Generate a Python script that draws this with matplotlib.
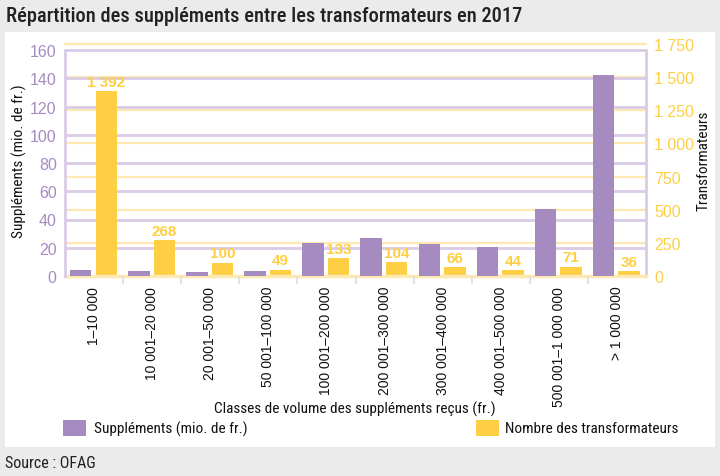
import numpy as np
import matplotlib
matplotlib.use("Agg")
import matplotlib.pyplot as plt
from matplotlib import font_manager
from matplotlib.patches import Rectangle
from matplotlib.ticker import FixedLocator, FuncFormatter

# data
classes = ["1\u201310 000", "10 001\u201320 000", "20 001\u201350 000", "50 001\u2013100 000",
           "100 001\u2013200 000", "200 001\u2013300 000", "300 001\u2013400 000",
           "400 001\u2013500 000", "500 001\u20131 000 000", "> 1 000 000"]
supplements = [4.5, 3.2, 2.6, 3.4, 23.3, 26.7, 22.6, 20.3, 47.3, 142.5]
transformateurs = [1392, 268, 100, 49, 133, 104, 66, 44, 71, 36]

PURPLE = "#a68bc1"
ORANGE = "#fecf44"
PURPLE_GRID = "#d9cbe6"
ORANGE_GRID = "#ffe9b2"
BG = "#ebebeb"

available = {f.name for f in font_manager.fontManager.ttflist}
narrow = "DejaVu Sans"
for cand in ["Roboto Condensed", "Liberation Sans Narrow", "Open Sans Condensed", "Noto Sans Condensed"]:
    if cand in available:
        narrow = cand
        break
plain = "Liberation Sans" if "Liberation Sans" in available else "DejaVu Sans"
cond_kw = {"family": narrow}
if narrow == "DejaVu Sans":
    cond_kw["stretch"] = "condensed"


def fr_thousands(v, pos=None):
    return f"{int(v):,}".replace(",", " ")


fig = plt.figure(figsize=(7.2, 4.77), dpi=100)
fig.patch.set_facecolor(BG)
W, H = 720.0, 477.0
# white panel
fig.add_artist(Rectangle((5 / W, 1 - 448 / H), 710 / W, 415 / H, transform=fig.transFigure,
                         facecolor="white", edgecolor="none", zorder=0))
fig.text(6 / W, 1 - 17 / H, "Répartition des suppléments entre les transformateurs en 2017",
         fontsize=14.8, fontweight="medium", va="center", ha="left", color="#222222", **cond_kw)
fig.text(5 / W, 1 - 464 / H, "Source : OFAG", fontsize=11.5, va="center", ha="left",
         color="#222222", **cond_kw)

ax = fig.add_axes([65 / W, 1 - 277 / H, 581 / W, 232 / H])
ax2 = ax.twinx()
# purple bars sit above everything, orange bars + all gridlines live on ax2 below
ax.set_zorder(ax2.get_zorder() + 1)
ax.patch.set_visible(False)
ax2.patch.set_visible(False)

x = np.arange(len(classes))
bw = 0.37
ax.bar(x - 0.23, supplements, width=bw, color=PURPLE, zorder=3)
ax2.bar(x + 0.21, transformateurs, width=bw, color=ORANGE, zorder=3)

left_top = 160 * 232 / 226
ax.set_ylim(0, left_top)
ax2.set_ylim(0, 1750)
ax.set_xlim(-0.5, len(classes) - 0.5)
scale = 1750 / left_top

# gridlines (all on ax2, purple ones converted to the right-hand scale)
for v in range(250, 1751, 250):
    ax2.axhline(v, color=ORANGE_GRID, lw=1.6, zorder=0, clip_on=False)
for v in range(20, 161, 20):
    ax2.axhline(v * scale, color=PURPLE_GRID, lw=2, zorder=1)
ax2.axhline(0, color=ORANGE_GRID, lw=2.5, zorder=4, clip_on=False)

for a in (ax, ax2):
    a.spines["top"].set_visible(False)
    a.spines["bottom"].set_visible(False)
ax2.spines["left"].set_visible(False)
ax.spines["right"].set_visible(False)
ax.spines["left"].set_color(PURPLE_GRID)
ax.spines["left"].set_linewidth(2)
ax.spines["left"].set_bounds(0, 160)
ax2.spines["right"].set_color(PURPLE_GRID)
ax2.spines["right"].set_linewidth(2)
ax2.spines["right"].set_bounds(0, 160 * scale)

ax.set_yticks(range(0, 161, 20))
ax.tick_params(axis="y", length=0, pad=6, labelsize=11.5, labelcolor=PURPLE)
ax2.set_yticks(range(0, 1751, 250))
ax2.yaxis.set_major_formatter(FuncFormatter(fr_thousands))
ax2.tick_params(axis="y", length=0, pad=6, labelsize=11.5, labelcolor=ORANGE)
for lab in ax.get_yticklabels() + ax2.get_yticklabels():
    lab.set_fontfamily(plain)

ax.set_xticks(x)
ax.set_xticklabels(classes, rotation=90, fontsize=10, family=plain, color="#111111")
ax.xaxis.set_minor_locator(FixedLocator(np.arange(0.5, len(classes) - 1, 1)))
ax.tick_params(axis="x", which="major", length=0, pad=7)
ax.tick_params(axis="x", which="minor", length=6, color="#e2e2e2", width=1.5)

ax.set_ylabel("Suppléments (mio. de fr.)", fontsize=11, color="#111111", **cond_kw)
ax.yaxis.set_label_coords(-38 / 581, 0.5)
ax2.set_ylabel("Transformateurs", fontsize=11, color="#111111", **cond_kw)
ax2.yaxis.set_label_coords(632 / 581, 0.5)

for xi, v in zip(x, transformateurs):
    ax2.text(xi + 0.21, v + 18, fr_thousands(v), ha="center", va="bottom", fontsize=11,
             fontweight="bold", color=ORANGE, family=plain, zorder=5)

fig.text(355 / W, 1 - 409 / H, "Classes de volume des suppléments reçus (fr.)", fontsize=11,
         ha="center", va="center", color="#111111", **cond_kw)

# legend
fig.add_artist(Rectangle((63 / W, 1 - 437 / H), 23 / W, 16 / H, transform=fig.transFigure,
                         facecolor=PURPLE, edgecolor="none"))
fig.text(94 / W, 1 - 429 / H, "Suppléments (mio. de fr.)", fontsize=11, va="center",
         color="#111111", **cond_kw)
fig.add_artist(Rectangle((476 / W, 1 - 437 / H), 23 / W, 16 / H, transform=fig.transFigure,
                         facecolor=ORANGE, edgecolor="none"))
fig.text(505 / W, 1 - 429 / H, "Nombre des transformateurs", fontsize=11, va="center",
         color="#111111", **cond_kw)

fig.savefig("out.png", dpi=100, facecolor=fig.get_facecolor())
